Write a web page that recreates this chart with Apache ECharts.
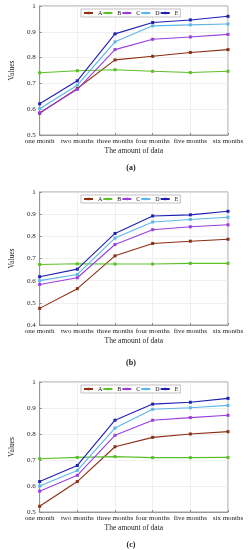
<!DOCTYPE html>
<html><head><meta charset="utf-8">
<script src="https://cdn.jsdelivr.net/npm/echarts@6/dist/echarts.min.js"></script>
<style>html,body{margin:0;padding:0;background:#fff}#c{width:248px;height:550px}</style>
</head><body><div id="c"></div>
<script>
const categories = ['one month','two months','three months','four months','five months','six months'];
const seriesNames = ['A','B','C','D','E'];
const colors = ['#8b2f14','#5cbf2a','#9a3ee0','#5cb6e8','#1f1fb4'];
// Panel (a)
const aA = [0.584,0.680,0.791,0.805,0.820,0.831];
const aB = [0.741,0.749,0.753,0.747,0.742,0.747];
const aC = [0.586,0.677,0.831,0.871,0.880,0.890];
const aD = [0.602,0.693,0.861,0.923,0.927,0.930];
const aE = [0.621,0.710,0.892,0.936,0.946,0.960];
// Panel (b)
const bA = [0.475,0.564,0.712,0.768,0.778,0.787];
const bB = [0.673,0.676,0.675,0.675,0.678,0.678];
const bC = [0.583,0.613,0.763,0.830,0.843,0.852];
const bD = [0.600,0.628,0.792,0.865,0.876,0.886];
const bE = [0.618,0.652,0.813,0.892,0.897,0.913];
// Panel (c)
const cA = [0.522,0.617,0.751,0.787,0.800,0.809];
const cB = [0.705,0.710,0.713,0.709,0.709,0.710];
const cC = [0.580,0.641,0.795,0.853,0.863,0.872];
const cD = [0.600,0.660,0.823,0.895,0.901,0.910];
const cE = [0.617,0.679,0.853,0.915,0.922,0.937];
const yMins = [0.5,0.4,0.5];
const yTicks = [0.1,0.1,0.1];
const captions = ['(a)','(b)','(c)'];

const panels = [[aA,aB,aC,aD,aE],[bA,bB,bC,bD,bE],[cA,cB,cC,cD,cE]];
const grids = [{top:6,bottom:415},{top:192,bottom:225},{top:382,bottom:38}];
const font = 'Liberation Serif';
const option = {animation:false, backgroundColor:'#fff', grid:[], xAxis:[], yAxis:[], series:[], legend:[], title:[]};
grids.forEach((g,i)=>{
  option.grid.push({left:21,right:20,top:g.top,bottom:g.bottom,show:true,borderColor:'#888',borderWidth:0.8});
  option.xAxis.push({type:'category',gridIndex:i,data:categories,boundaryGap:false,
    name:'The amount of data',nameLocation:'middle',nameGap:12,
    nameTextStyle:{fontFamily:font,fontSize:7.5,color:'#222'},
    axisLine:{lineStyle:{color:'#888',width:0.8}},axisTick:{show:true,inside:true,length:2,lineStyle:{color:'#888'}},
    axisLabel:{fontFamily:font,fontSize:7,color:'#222',margin:3,interval:0},
    splitLine:{show:true,lineStyle:{color:'#e6e6e6',width:0.6}}});
  option.yAxis.push({type:'value',gridIndex:i,min:yMins[i],max:1,interval:yTicks[i],
    name:'Values',nameLocation:'middle',nameGap:13,
    nameTextStyle:{fontFamily:font,fontSize:7.5,color:'#222'},
    axisLine:{show:true,lineStyle:{color:'#888',width:0.8}},axisTick:{show:true,inside:true,length:2,lineStyle:{color:'#888'}},
    axisLabel:{fontFamily:font,fontSize:7,color:'#222',margin:4,formatter:v=>(Math.round(v*10)/10).toString()},
    splitLine:{show:true,lineStyle:{color:'#e6e6e6',width:0.6}}});
  panels[i].forEach((d,k)=>{
    option.series.push({type:'line',name:seriesNames[k],xAxisIndex:i,yAxisIndex:i,data:d,
      symbol:'rect',symbolSize:3,color:colors[k],lineStyle:{width:1.1,color:colors[k]},itemStyle:{color:colors[k]}});
  });
  const legendTop = [9,195,385][i];
  option.legend.push({data:seriesNames,top:legendTop,left:81,itemWidth:9,itemHeight:3,itemGap:0,
    padding:[1,2],borderColor:'#999',borderWidth:0.6,backgroundColor:'#fff',
    textStyle:{fontFamily:font,fontSize:6,color:'#222'}});
  const capTop = [159,354,536][i];
  option.title.push({text:captions[i],left:126,top:capTop,textAlign:'center',
    textStyle:{fontFamily:font,fontSize:8,fontWeight:'bold',color:'#222'}});
});
const chart = echarts.init(document.getElementById('c'),null,{renderer:'canvas'});
chart.setOption(option);
</script></body></html>
